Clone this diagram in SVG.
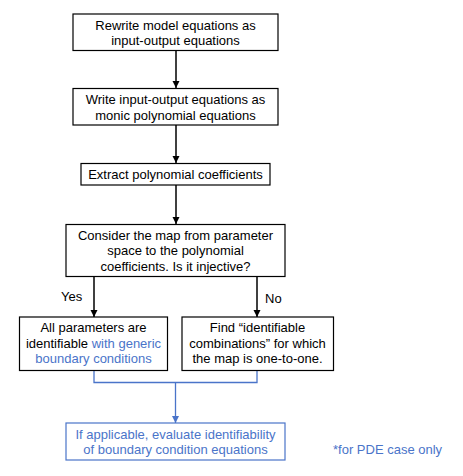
<svg xmlns="http://www.w3.org/2000/svg" width="463" height="476" viewBox="0 0 463 476">
<defs>
<style>
.box{fill:#fff;stroke:#000;stroke-width:1.2}
.bbox{fill:#fff;stroke:#4A74C9;stroke-width:1.2}
text{font-family:"Liberation Sans",Arial,sans-serif;font-size:13px;fill:#000}
.c{text-anchor:middle}
.b{fill:#4A74C9}
.ln{stroke:#000;stroke-width:1.5;fill:none}
.bl{stroke:#4A74C9;stroke-width:1.3;fill:none}
</style>
<marker id="ah" markerWidth="8" markerHeight="8" refX="7" refY="4" orient="auto" markerUnits="userSpaceOnUse"><path d="M0,0.5 L7,4 L0,7.5 Z" fill="#000"/></marker>
<marker id="ahb" markerWidth="8" markerHeight="8" refX="7" refY="4" orient="auto" markerUnits="userSpaceOnUse"><path d="M0,0.5 L7,4 L0,7.5 Z" fill="#4A74C9"/></marker>
</defs>
<rect width="463" height="476" fill="#fff"/>
<g id="connectors">
<line class="ln" x1="176" y1="51" x2="176" y2="88" marker-end="url(#ah)"/>
<line class="ln" x1="176" y1="125" x2="176" y2="163" marker-end="url(#ah)"/>
<line class="ln" x1="176" y1="185" x2="176" y2="224" marker-end="url(#ah)"/>
<line class="ln" x1="94" y1="277" x2="94" y2="317" marker-end="url(#ah)"/>
<line class="ln" x1="257" y1="277" x2="257" y2="317" marker-end="url(#ah)"/>
<path class="bl" d="M94,371 V382.5 H257 V371"/>
<line class="bl" x1="175.5" y1="382.5" x2="175.5" y2="423" marker-end="url(#ahb)"/>
<text x="61" y="300.5">Yes</text>
<text x="265" y="302.5">No</text>
</g>
<g id="n1"><rect class="box" x="73" y="14" width="205" height="36.5"/>
<text class="c" x="175.5" y="29.5">Rewrite model equations as</text>
<text class="c" x="175.5" y="45">input-output equations</text></g>
<g id="n2"><rect class="box" x="73" y="88.5" width="205" height="36.5"/>
<text class="c" x="175.5" y="104">Write input-output equations as</text>
<text class="c" x="175.5" y="119.5">monic polynomial equations</text></g>
<g id="n3"><rect class="box" x="81" y="163.5" width="189" height="21.5"/>
<text class="c" x="175.5" y="178.5">Extract polynomial coefficients</text></g>
<g id="n4"><rect class="box" x="66" y="224.5" width="219" height="52"/>
<text class="c" x="175.5" y="239.5">Consider the map from parameter</text>
<text class="c" x="175.5" y="255">space to the polynomial</text>
<text class="c" x="175.5" y="270.5">coefficients. Is it injective?</text></g>
<g id="n5"><rect class="box" x="19.5" y="317" width="148" height="53.5"/>
<text class="c" x="93.5" y="332">All parameters are</text>
<text class="c" x="93.5" y="347.5">identifiable <tspan class="b">with generic</tspan></text>
<text class="c b" x="93.5" y="363">boundary conditions</text></g>
<g id="n6"><rect class="box" x="182" y="317" width="151.5" height="53.5"/>
<text class="c" x="257.5" y="332">Find “identifiable</text>
<text class="c" x="257.5" y="347.5">combinations” for which</text>
<text class="c" x="257.5" y="363">the map is one-to-one.</text></g>
<g id="n7"><rect class="bbox" x="66" y="423" width="219" height="37"/>
<text class="c b" x="175.5" y="438.5">If applicable, evaluate identifiability</text>
<text class="c b" x="175.5" y="454">of boundary condition equations</text></g>
<g id="note"><text class="b" x="333" y="453.5">*for PDE case only</text></g>
</svg>
